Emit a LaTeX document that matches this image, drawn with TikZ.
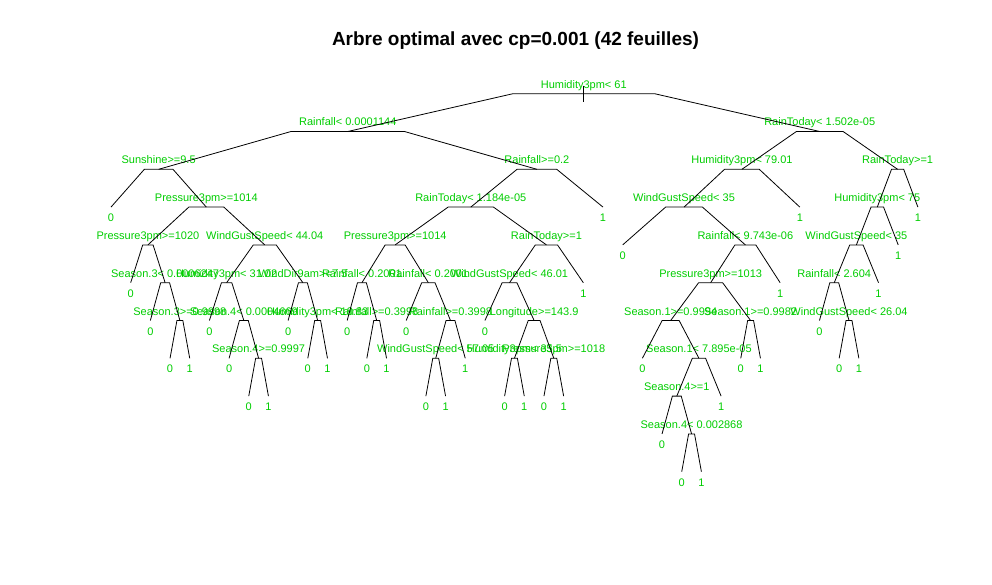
\documentclass[tikz,border=0pt]{standalone}
\usepackage{fontspec}
\setmainfont{Liberation Sans}
\usetikzlibrary{calc}
\definecolor{splitgreen}{RGB}{0,205,0}

\begin{document}
\begin{tikzpicture}[
    x=1pt, y=-1pt,
    % Define styles
    edge/.style={
        draw=black,
        line width=0.8pt,
        to path={-- ($(\tikztostart)!0.3!(\tikztotarget|-\tikztostart)$) -- (\tikztotarget)}
    },
    splitlabel/.style={
        anchor=base,
        yshift=5.5pt,
        inner sep=0pt,
        font=\fontsize{11}{13}\selectfont,
        text=splitgreen
    },
    leaflabel/.style={
        anchor=base,
        yshift=-14.5pt,
        inner sep=0pt,
        font=\fontsize{11}{13}\selectfont,
        text=splitgreen
    },
    plottitle/.style={
        anchor=base,
        font=\fontsize{19}{23}\selectfont\bfseries
    }
]
\useasboundingbox (0,0) rectangle (992,585);

% ============================================================
% Title
% ============================================================
\node[plottitle] (title) at (515.5,46) {Arbre optimal avec cp=0.001 (42 feuilles)};

% leaves one unit apart, one depth level per row
\begin{scope}[shift={(91.32,93.7)}, x=19.68pt, y=-37.8pt]

% ============================================================
% Splits
% ============================================================
\coordinate (root) at (25.0225,0);    \node[splitlabel] (root-t) at (root) {Humidity3pm< 61};
\coordinate (rf0001) at (13.03125,1); \node[splitlabel] (rf0001-t) at (rf0001) {Rainfall< 0.0001144};
\coordinate (sun) at (3.421875,2);    \node[splitlabel] (sun-t) at (sun) {Sunshine>=9.5};
\coordinate (p1014a) at (5.84375,3);  \node[splitlabel] (p1014a-t) at (p1014a) {Pressure3pm>=1014};
\coordinate (p1020) at (2.875,4);     \node[splitlabel] (p1020-t) at (p1020) {Pressure3pm>=1020};
\coordinate (s3a) at (3.75,5);        \node[splitlabel] (s3a-t) at (s3a) {Season.3< 0.0006247};
\coordinate (s3b) at (4.5,6);         \node[splitlabel] (s3b-t) at (s3b) {Season.3>=0.9998};
\coordinate (wg44) at (8.8125,4);     \node[splitlabel] (wg44-t) at (wg44) {WindGustSpeed< 44.04};
\coordinate (h31) at (6.875,5);       \node[splitlabel] (h31-t) at (h31) {Humidity3pm< 31.02};
\coordinate (s4a) at (7.75,6);        \node[splitlabel] (s4a-t) at (s4a) {Season.4< 0.0004669};
\coordinate (s4b) at (8.5,7);         \node[splitlabel] (s4b-t) at (s4b) {Season.4>=0.9997};
\coordinate (wd9) at (10.75,5);       \node[splitlabel] (wd9-t) at (wd9) {WindDir9am>=7.5};
\coordinate (h18) at (11.5,6);        \node[splitlabel] (h18-t) at (h18) {Humidity3pm< 18.83};

\coordinate (rf02) at (22.640625,2);  \node[splitlabel] (rf02-t) at (rf02) {Rainfall>=0.2};
\coordinate (rt184) at (19.28125,3);  \node[splitlabel] (rt184-t) at (rt184) {RainToday< 1.184e-05};
\coordinate (p1014b) at (15.4375,4);  \node[splitlabel] (p1014b-t) at (p1014b) {Pressure3pm>=1014};
\coordinate (rf2001a) at (13.75,5);   \node[splitlabel] (rf2001a-t) at (rf2001a) {Rainfall< 0.2001};
\coordinate (rf399a) at (14.5,6);     \node[splitlabel] (rf399a-t) at (rf399a) {Rainfall>=0.3998};
\coordinate (rf2001b) at (17.125,5);  \node[splitlabel] (rf2001b-t) at (rf2001b) {Rainfall< 0.2001};
\coordinate (rf399b) at (18.25,6);    \node[splitlabel] (rf399b-t) at (rf399b) {Rainfall>=0.3998};
\coordinate (wg57) at (17.5,7);       \node[splitlabel] (wg57-t) at (wg57) {WindGustSpeed< 57.05};
\coordinate (rt1a) at (23.125,4);     \node[splitlabel] (rt1a-t) at (rt1a) {RainToday>=1};
\coordinate (wg46) at (21.25,5);      \node[splitlabel] (wg46-t) at (wg46) {WindGustSpeed< 46.01};
\coordinate (lon) at (22.5,6);        \node[splitlabel] (lon-t) at (lon) {Longitude>=143.9};
\coordinate (h35) at (21.5,7);        \node[splitlabel] (h35-t) at (h35) {Humidity3pm< 35.5};
\coordinate (p1018) at (23.5,7);      \node[splitlabel] (p1018-t) at (p1018) {Pressure3pm>=1018};

\coordinate (rt150) at (37.013672,1); \node[splitlabel] (rt150-t) at (rt150) {RainToday< 1.502e-05};
\coordinate (h79) at (33.058594,2);   \node[splitlabel] (h79-t) at (h79) {Humidity3pm< 79.01};
\coordinate (wg35a) at (30.117188,3); \node[splitlabel] (wg35a-t) at (wg35a) {WindGustSpeed< 35};
\coordinate (rf974) at (33.234375,4); \node[splitlabel] (rf974-t) at (rf974) {Rainfall< 9.743e-06};
\coordinate (p1013) at (31.46875,5);  \node[splitlabel] (p1013-t) at (p1013) {Pressure3pm>=1013};
\coordinate (s1a) at (29.4375,6);     \node[splitlabel] (s1a-t) at (s1a) {Season.1>=0.9994};
\coordinate (s1c) at (30.875,7);      \node[splitlabel] (s1c-t) at (s1c) {Season.1< 7.895e-05};
\coordinate (s4d) at (29.75,8);       \node[splitlabel] (s4d-t) at (s4d) {Season.4>=1};
\coordinate (s4c) at (30.5,9);        \node[splitlabel] (s4c-t) at (s4c) {Season.4< 0.002868};
\coordinate (s1b) at (33.5,6);        \node[splitlabel] (s1b-t) at (s1b) {Season.1>=0.9982};
\coordinate (rt1b) at (40.96875,2);   \node[splitlabel] (rt1b-t) at (rt1b) {RainToday>=1};
\coordinate (h75) at (39.9375,3);     \node[splitlabel] (h75-t) at (h75) {Humidity3pm< 75};
\coordinate (wg35b) at (38.875,4);    \node[splitlabel] (wg35b-t) at (wg35b) {WindGustSpeed< 35};
\coordinate (rf26) at (37.75,5);      \node[splitlabel] (rf26-t) at (rf26) {Rainfall< 2.604};
\coordinate (wg26) at (38.5,6);       \node[splitlabel] (wg26-t) at (wg26) {WindGustSpeed< 26.04};

% ============================================================
% Leaves
% ============================================================
\coordinate (l1) at (1,3);   \node[leaflabel] (l1-t) at (l1) {0};
\coordinate (l2) at (2,5);   \node[leaflabel] (l2-t) at (l2) {0};
\coordinate (l3) at (3,6);   \node[leaflabel] (l3-t) at (l3) {0};
\coordinate (l4) at (4,7);   \node[leaflabel] (l4-t) at (l4) {0};
\coordinate (l5) at (5,7);   \node[leaflabel] (l5-t) at (l5) {1};
\coordinate (l6) at (6,6);   \node[leaflabel] (l6-t) at (l6) {0};
\coordinate (l7) at (7,7);   \node[leaflabel] (l7-t) at (l7) {0};
\coordinate (l8) at (8,8);   \node[leaflabel] (l8-t) at (l8) {0};
\coordinate (l9) at (9,8);   \node[leaflabel] (l9-t) at (l9) {1};
\coordinate (l10) at (10,6); \node[leaflabel] (l10-t) at (l10) {0};
\coordinate (l11) at (11,7); \node[leaflabel] (l11-t) at (l11) {0};
\coordinate (l12) at (12,7); \node[leaflabel] (l12-t) at (l12) {1};
\coordinate (l13) at (13,6); \node[leaflabel] (l13-t) at (l13) {0};
\coordinate (l14) at (14,7); \node[leaflabel] (l14-t) at (l14) {0};
\coordinate (l15) at (15,7); \node[leaflabel] (l15-t) at (l15) {1};
\coordinate (l16) at (16,6); \node[leaflabel] (l16-t) at (l16) {0};
\coordinate (l17) at (17,8); \node[leaflabel] (l17-t) at (l17) {0};
\coordinate (l18) at (18,8); \node[leaflabel] (l18-t) at (l18) {1};
\coordinate (l19) at (19,7); \node[leaflabel] (l19-t) at (l19) {1};
\coordinate (l20) at (20,6); \node[leaflabel] (l20-t) at (l20) {0};
\coordinate (l21) at (21,8); \node[leaflabel] (l21-t) at (l21) {0};
\coordinate (l22) at (22,8); \node[leaflabel] (l22-t) at (l22) {1};
\coordinate (l23) at (23,8); \node[leaflabel] (l23-t) at (l23) {0};
\coordinate (l24) at (24,8); \node[leaflabel] (l24-t) at (l24) {1};
\coordinate (l25) at (25,5); \node[leaflabel] (l25-t) at (l25) {1};
\coordinate (l26) at (26,3); \node[leaflabel] (l26-t) at (l26) {1};
\coordinate (l27) at (27,4); \node[leaflabel] (l27-t) at (l27) {0};
\coordinate (l28) at (28,7); \node[leaflabel] (l28-t) at (l28) {0};
\coordinate (l29) at (29,9); \node[leaflabel] (l29-t) at (l29) {0};
\coordinate (l30) at (30,10); \node[leaflabel] (l30-t) at (l30) {0};
\coordinate (l31) at (31,10); \node[leaflabel] (l31-t) at (l31) {1};
\coordinate (l32) at (32,8); \node[leaflabel] (l32-t) at (l32) {1};
\coordinate (l33) at (33,7); \node[leaflabel] (l33-t) at (l33) {0};
\coordinate (l34) at (34,7); \node[leaflabel] (l34-t) at (l34) {1};
\coordinate (l35) at (35,5); \node[leaflabel] (l35-t) at (l35) {1};
\coordinate (l36) at (36,3); \node[leaflabel] (l36-t) at (l36) {1};
\coordinate (l37) at (37,6); \node[leaflabel] (l37-t) at (l37) {0};
\coordinate (l38) at (38,7); \node[leaflabel] (l38-t) at (l38) {0};
\coordinate (l39) at (39,7); \node[leaflabel] (l39-t) at (l39) {1};
\coordinate (l40) at (40,5); \node[leaflabel] (l40-t) at (l40) {1};
\coordinate (l41) at (41,4); \node[leaflabel] (l41-t) at (l41) {1};
\coordinate (l42) at (42,3); \node[leaflabel] (l42-t) at (l42) {1};

% ============================================================
% Branches
% ============================================================
\draw[edge] ([yshift=8pt]root) -- ([yshift=-8pt]root);
\draw[edge] (root) to (rf0001) (root) to (rt150);

% left part
\draw[edge] (rf0001) to (sun) (rf0001) to (rf02);
\draw[edge] (sun) to (l1) (sun) to (p1014a);
\draw[edge] (p1014a) to (p1020) (p1014a) to (wg44);
\draw[edge] (p1020) to (l2) (p1020) to (s3a);
\draw[edge] (s3a) to (l3) (s3a) to (s3b);
\draw[edge] (s3b) to (l4) (s3b) to (l5);
\draw[edge] (wg44) to (h31) (wg44) to (wd9);
\draw[edge] (h31) to (l6) (h31) to (s4a);
\draw[edge] (s4a) to (l7) (s4a) to (s4b);
\draw[edge] (s4b) to (l8) (s4b) to (l9);
\draw[edge] (wd9) to (l10) (wd9) to (h18);
\draw[edge] (h18) to (l11) (h18) to (l12);

% middle part
\draw[edge] (rf02) to (rt184) (rf02) to (l26);
\draw[edge] (rt184) to (p1014b) (rt184) to (rt1a);
\draw[edge] (p1014b) to (rf2001a) (p1014b) to (rf2001b);
\draw[edge] (rf2001a) to (l13) (rf2001a) to (rf399a);
\draw[edge] (rf399a) to (l14) (rf399a) to (l15);
\draw[edge] (rf2001b) to (l16) (rf2001b) to (rf399b);
\draw[edge] (rf399b) to (wg57) (rf399b) to (l19);
\draw[edge] (wg57) to (l17) (wg57) to (l18);
\draw[edge] (rt1a) to (wg46) (rt1a) to (l25);
\draw[edge] (wg46) to (l20) (wg46) to (lon);
\draw[edge] (lon) to (h35) (lon) to (p1018);
\draw[edge] (h35) to (l21) (h35) to (l22);
\draw[edge] (p1018) to (l23) (p1018) to (l24);

% right part
\draw[edge] (rt150) to (h79) (rt150) to (rt1b);
\draw[edge] (h79) to (wg35a) (h79) to (l36);
\draw[edge] (wg35a) to (l27) (wg35a) to (rf974);
\draw[edge] (rf974) to (p1013) (rf974) to (l35);
\draw[edge] (p1013) to (s1a) (p1013) to (s1b);
\draw[edge] (s1a) to (l28) (s1a) to (s1c);
\draw[edge] (s1c) to (s4d) (s1c) to (l32);
\draw[edge] (s4d) to (l29) (s4d) to (s4c);
\draw[edge] (s4c) to (l30) (s4c) to (l31);
\draw[edge] (s1b) to (l33) (s1b) to (l34);
\draw[edge] (rt1b) to (h75) (rt1b) to (l42);
\draw[edge] (h75) to (wg35b) (h75) to (l41);
\draw[edge] (wg35b) to (rf26) (wg35b) to (l40);
\draw[edge] (rf26) to (l37) (rf26) to (wg26);
\draw[edge] (wg26) to (l38) (wg26) to (l39);

\end{scope}
\end{tikzpicture}
\end{document}
